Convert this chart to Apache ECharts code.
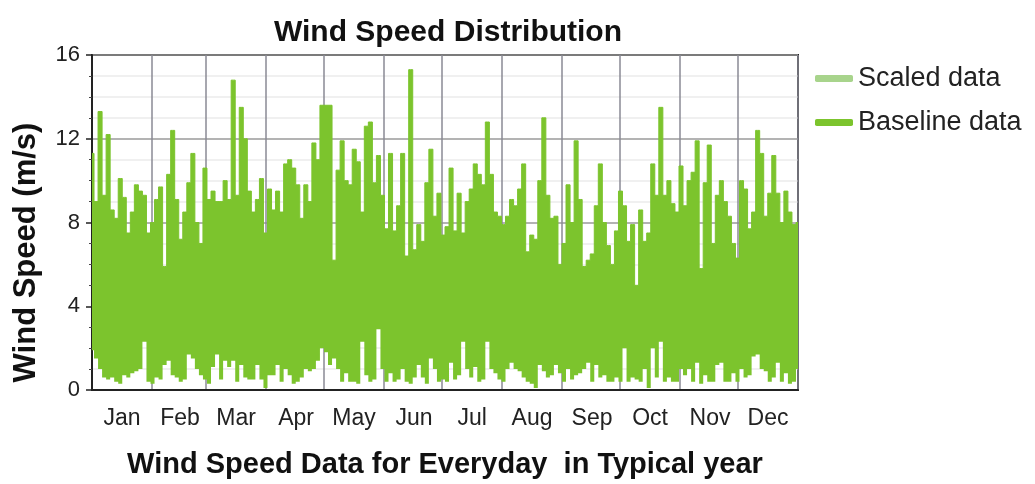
<!DOCTYPE html>
<html lang="en">

<head>
  <meta charset="UTF-8">
  <title>Wind Speed Distribution</title>
  <script src="https://cdn.jsdelivr.net/npm/echarts@6/dist/echarts.min.js"></script>
  <style>
    * {
      padding: 0;
      margin: 0;
    }

    #main {
      width: 1035px;
      height: 484px;
      background: #fff;
    }
  </style>
</head>

<body>
  <div id="main"></div>
  <script>
    // month axis
    const months = ['Jan', 'Feb', 'Mar', 'Apr', 'May', 'Jun', 'Jul', 'Aug', 'Sep', 'Oct', 'Nov', 'Dec'];
    const monthDays = [31, 28, 31, 30, 31, 30, 31, 31, 30, 31, 30, 31];
    const yTicks = [0, 4, 8, 12, 16];

    // wind speed envelope (m/s), ~2 days per value
    const highs = [
      11.3, 9.0, 13.3, 9.3, 12.2, 8.6, 8.2, 10.1, 9.2, 7.5, 8.5, 9.8, 9.5, 9.3, 7.5, 8.0, 9.1, 9.7, 5.9, 10.3,
      12.4, 9.1, 7.2, 8.5, 9.9, 11.3, 8.0, 7.0, 10.6, 9.1,
      9.5, 9.0, 9.0, 10.0, 9.1, 14.8, 9.3, 13.5, 12.0, 9.5, 8.5, 9.1, 10.1, 7.5, 9.6, 8.6, 9.5, 8.5, 10.8, 11.0,
      10.6, 9.8, 8.2, 9.8, 9.0, 11.8, 11.0, 13.6, 13.6,
      13.6, 6.2, 10.5, 11.9, 10.0, 9.8, 11.5, 10.9, 8.5, 12.6, 12.8, 9.9, 11.2, 9.3, 7.7, 11.3, 7.6, 8.8, 11.3, 6.4,
      15.3, 6.7, 7.9, 7.1, 9.9, 11.5, 8.3, 9.4, 7.4, 7.8,
      10.6, 7.6, 9.4, 7.5, 9.0, 9.6, 10.8, 10.3, 9.8, 12.8, 10.3, 8.5, 8.3, 7.9, 8.3, 9.1, 8.8, 9.6, 10.8, 6.6,
      7.4, 7.2, 10.0, 13.0, 9.3, 8.2, 8.3, 6.0, 7.0,
      9.8, 8.0, 11.9, 9.1, 5.9, 6.2, 6.5, 8.8, 10.8, 8.0, 6.9, 6.0, 7.6, 9.5, 8.8, 7.1, 7.9, 5.0, 8.6, 7.1,
      7.5, 10.8, 9.3, 13.5, 9.3, 10.0, 8.9, 8.5, 10.7, 8.8,
      10.0, 10.4, 11.9, 5.8, 9.9, 11.7, 7.0, 9.3, 10.0, 9.0, 8.3, 7.0, 6.3, 10.0, 9.6, 7.7, 8.5, 12.4, 11.3, 8.3,
      9.4, 11.2, 9.4, 8.0, 9.5, 8.5, 7.9, 8.0
    ];
    const lows = [
      1.9, 1.5, 1.0, 0.6, 0.5, 0.6, 0.4, 0.3, 0.7, 0.6, 0.8, 0.9, 1.0, 2.3, 0.4, 0.3, 0.6, 0.5, 1.2, 1.4,
      0.7, 0.6, 0.4, 0.5, 1.7, 1.5, 1.0, 0.7, 0.5, 0.3,
      1.1, 1.7, 0.5, 1.4, 1.1, 1.4, 0.4, 1.2, 0.6, 0.5, 0.5, 1.2, 0.5, 0.1, 0.7, 0.7, 1.2, 0.4, 1.0, 0.7,
      0.3, 0.4, 0.6, 1.0, 0.9, 1.0, 1.4, 2.0, 1.8,
      1.2, 1.5, 1.0, 0.4, 0.8, 0.4, 0.4, 0.3, 2.3, 0.7, 0.4, 0.5, 2.9, 1.0, 0.4, 0.8, 0.4, 0.5, 1.0, 0.4,
      0.3, 0.6, 1.2, 0.6, 0.3, 1.5, 1.0, 0.4, 0.5, 0.4,
      1.3, 0.5, 0.7, 2.3, 1.0, 0.6, 1.1, 0.4, 0.5, 2.3, 1.0, 0.8, 0.5, 0.4, 1.0, 1.3, 1.0, 0.9, 0.6, 0.4,
      0.3, 0.1, 1.2, 0.9, 0.6, 0.7, 1.2, 0.8, 0.4,
      1.0, 0.5, 0.7, 0.8, 1.0, 1.3, 0.4, 1.2, 0.6, 0.7, 0.4, 0.4, 0.6, 0.4, 2.0, 0.4, 0.6, 0.5, 0.4, 1.0,
      0.1, 2.0, 0.6, 2.3, 0.4, 0.6, 0.4, 0.4, 1.0, 0.7,
      1.0, 0.4, 1.3, 0.3, 0.7, 0.4, 0.4, 1.2, 1.3, 0.4, 0.4, 0.8, 0.4, 1.0, 0.6, 0.7, 1.6, 1.7, 1.0, 0.9,
      0.4, 0.6, 1.3, 0.4, 0.8, 0.3, 0.4, 1.0
    ];

    const font = 'Liberation Sans Narrow, Liberation Sans, Arial';

    // one category per day, used for month ticks and labels
    const days = [];
    const monthStart = {};
    const monthMid = {};
    monthDays.forEach(function (n, m) {
      monthStart[days.length] = true;
      monthMid[days.length + Math.floor(n / 2)] = months[m];
      for (let d = 1; d <= n; d++) days.push(months[m] + ' ' + d);
    });

    const bins = highs.map(function (v, i) { return i; });
    const range = highs.map(function (v, i) { return +(v - lows[i]).toFixed(2); });

    var chartDom = document.getElementById('main');
    var myChart = echarts.init(chartDom);
    var option;

    option = {
      animation: false,
      title: {
        text: 'Wind Speed Distribution',
        left: 443,
        textAlign: 'center',
        top: 13,
        textStyle: { fontFamily: font, fontSize: 30, fontWeight: 'bold', color: '#111' }
      },
      legend: {
        data: ['Scaled data', 'Baseline data'],
        orient: 'vertical',
        left: 810,
        top: 60,
        icon: 'roundRect',
        itemWidth: 38,
        itemHeight: 7,
        itemGap: 17,
        textStyle: { fontFamily: font, fontSize: 27, color: '#222' }
      },
      grid: {
        left: 92,
        right: 237,
        top: 55,
        bottom: 92,
        show: true,
        borderColor: '#222',
        borderWidth: 2
      },
      xAxis: [
        {
          type: 'category',
          data: days,
          boundaryGap: true,
          name: 'Wind Speed Data for Everyday  in Typical year',
          nameLocation: 'middle',
          nameGap: 60,
          nameTextStyle: { fontFamily: font, fontSize: 29, fontWeight: 'bold', color: '#111' },
          axisLine: { lineStyle: { color: '#222', width: 2 } },
          axisTick: {
            interval: function (i) { return !!monthStart[i]; },
            length: 7,
            lineStyle: { color: '#222', width: 2 }
          },
          axisLabel: {
            interval: function (i) { return !!monthMid[i]; },
            formatter: function (v, i) { return monthMid[i]; },
            margin: 17,
            fontFamily: font,
            fontSize: 23,
            color: '#222'
          },
          splitLine: {
            show: true,
            interval: function (i) { return !!monthStart[i] && i > 0; },
            lineStyle: { color: '#8a8a94', width: 1.5 }
          }
        },
        {
          type: 'category',
          data: bins,
          boundaryGap: false,
          show: false
        }
      ],
      yAxis: {
        type: 'value',
        min: yTicks[0],
        max: yTicks[yTicks.length - 1],
        interval: 4,
        name: 'Wind Speed (m/s)',
        nameLocation: 'middle',
        nameGap: 50,
        nameTextStyle: { fontFamily: font, fontSize: 31, fontWeight: 'bold', color: '#111', padding: [0, 60, 0, 0] },
        axisLine: { show: true, lineStyle: { color: '#222', width: 2 } },
        axisTick: { show: true, length: 6, lineStyle: { color: '#222', width: 1.5 } },
        minorTick: { show: true, splitNumber: 4, length: 3, lineStyle: { color: '#444' } },
        axisLabel: { margin: 12, fontFamily: font, fontSize: 22, color: '#222' },
        splitLine: { lineStyle: { color: '#9a9a9a', width: 1.5 } },
        minorSplitLine: { show: true, lineStyle: { color: '#ececec', width: 1.5 } }
      },
      series: [
        {
          name: 'Scaled data',
          type: 'line',
          xAxisIndex: 1,
          color: '#a8d48c',
          symbol: 'none',
          data: []
        },
        {
          name: 'low',
          type: 'line',
          xAxisIndex: 1,
          stack: 'wind',
          step: 'middle',
          symbol: 'none',
          silent: true,
          lineStyle: { opacity: 0 },
          data: lows
        },
        {
          name: 'Baseline data',
          type: 'line',
          xAxisIndex: 1,
          stack: 'wind',
          step: 'middle',
          symbol: 'none',
          color: '#7cc42d',
          lineStyle: { width: 1, color: '#7cc42d' },
          areaStyle: { color: '#7cc42d', opacity: 1 },
          data: range
        }
      ]
    };

    option && myChart.setOption(option);
  </script>
</body>

</html>
